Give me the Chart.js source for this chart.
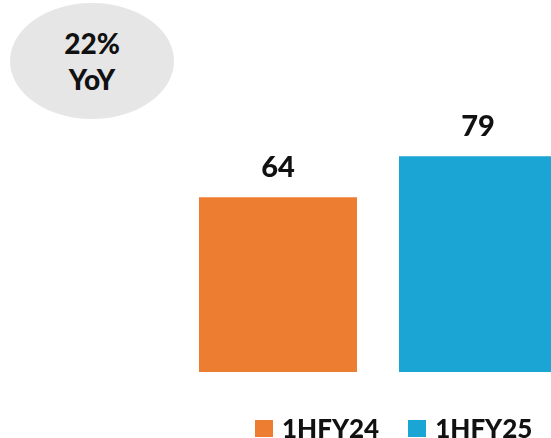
<!DOCTYPE html>
<html>
<head>
<meta charset="utf-8">
<script src="https://cdn.jsdelivr.net/npm/chart.js@4.4.1/dist/chart.umd.min.js"></script>
<style>
  html, body { margin: 0; padding: 0; width: 551px; height: 438px; overflow: hidden; background: #fff; }
  #wrap { position: absolute; left: 0; top: 0; width: 578px; height: 438px; }
  #yoy {
    position: absolute; left: 10px; top: 3px; width: 164px; height: 116px;
    border-radius: 50%; background: #e6e6e6;
    display: flex; flex-direction: column; align-items: center; justify-content: center;
    font: 900 28px Lato, sans-serif; line-height: 36px; color: #111;
  }
  #legend {
    position: absolute; left: 255px; top: 412px; display: flex; align-items: center;
    font: 900 26px Lato, sans-serif; color: #111;
  }
  #legend .item { display: flex; align-items: center; margin-right: 29px; }
  #legend .box { width: 18px; height: 17px; margin-right: 9px; }
</style>
</head>
<body>
<div id="wrap"><canvas id="barChart"></canvas></div>
<div id="yoy"></div>
<div id="legend"></div>
<script>
// --- data ---
const categories = ['1HFY24', '1HFY25'];
const values = [64, 79];
const colors = ['#ED7D31', '#1BA5D5'];
const yoyLabel = ['22%', 'YoY'];

// one dataset per period so each gets its own legend entry
const datasets = categories.map((name, i) => ({
    label: name,
    data: values.map((v, j) => (j === i ? v : null)),
    backgroundColor: colors[i],
    barPercentage: 0.79,
    categoryPercentage: 1
}));

// value labels above each bar
const valueLabels = {
    id: 'valueLabels',
    afterDatasetsDraw(chart) {
        const ctx = chart.ctx;
        ctx.save();
        ctx.font = '900 29px Lato, sans-serif';
        ctx.fillStyle = '#111';
        ctx.textAlign = 'center';
        ctx.textBaseline = 'alphabetic';
        chart.data.datasets.forEach((ds, i) => {
            chart.getDatasetMeta(i).data.forEach((bar, j) => {
                if (ds.data[j] == null) return;
                ctx.fillText(ds.data[j], bar.x, bar.y - 20);
            });
        });
        ctx.restore();
    }
};

const chart = new Chart(document.getElementById('barChart'), {
    type: 'bar',
    data: { labels: categories, datasets: datasets },
    options: {
        responsive: true,
        maintainAspectRatio: false,
        animation: false,
        layout: { padding: { left: 178, right: 0, top: 99, bottom: 66 } },
        datasets: { bar: { skipNull: true } },
        scales: {
            x: { display: false },
            y: { display: false, min: 0, max: 100 }
        },
        plugins: { legend: { display: false }, tooltip: { enabled: false } }
    },
    plugins: [valueLabels]
});

// html legend built from the chart's datasets
const legendEl = document.getElementById('legend');
chart.data.datasets.forEach(ds => {
    const item = document.createElement('div');
    item.className = 'item';
    const box = document.createElement('span');
    box.className = 'box';
    box.style.background = ds.backgroundColor;
    const txt = document.createElement('span');
    txt.textContent = ds.label;
    item.appendChild(box);
    item.appendChild(txt);
    legendEl.appendChild(item);
});

const yoyEl = document.getElementById('yoy');
yoyEl.innerHTML = yoyLabel.map(t => `<span>${t}</span>`).join('');
</script>
</body>
</html>
